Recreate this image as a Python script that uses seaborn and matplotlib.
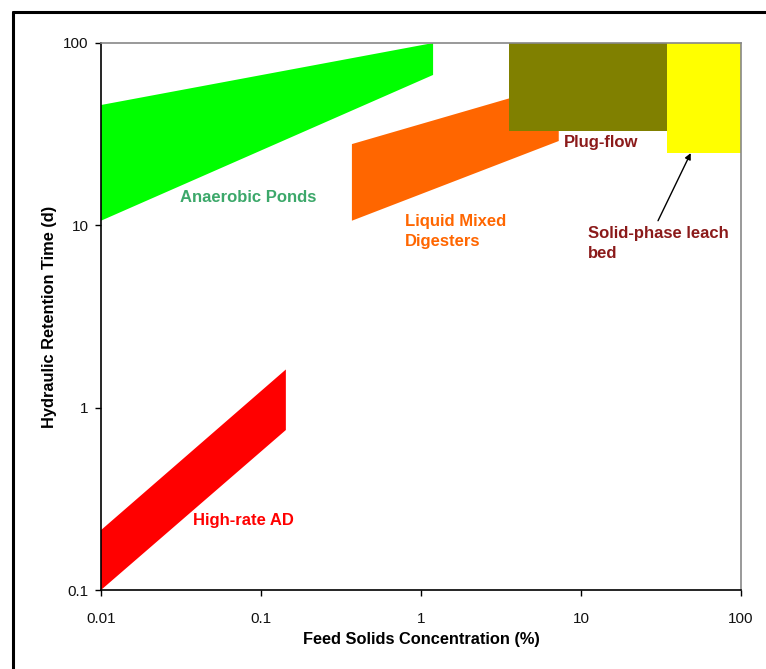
import matplotlib
matplotlib.use("Agg")
import matplotlib.pyplot as plt
from matplotlib.lines import Line2D
import seaborn as sns

sns.set_theme(style="ticks")
plt.rcParams['font.family'] = ['Liberation Sans', 'DejaVu Sans']

# Region vertices (Feed solids %, HRT days)
ponds_x = [0.01, 0.01, 1.19, 1.19]
ponds_y = [45.7, 10.6, 66.8, 100]
mixed_x = [0.37, 0.37, 7.26, 7.26]
mixed_y = [27.9, 10.6, 29.0, 59.6]
plug_x = [3.56, 3.56, 34.6, 34.6]
plug_y = [100, 33.0, 33.0, 100]
leach_x = [34.6, 34.6, 100, 100]
leach_y = [100, 24.9, 24.9, 100]
highrate_x = [0.01, 0.01, 0.143, 0.143]
highrate_y = [0.213, 0.1, 0.754, 1.62]

x_ticks = [0.01, 0.1, 1, 10, 100]
x_tick_labels = ["0.01", "0.1", "1", "10", "100"]
y_ticks = [0.1, 1, 10, 100]
y_tick_labels = ["0.1", "1", "10", "100"]

fig = plt.figure(figsize=(7.66, 6.69), dpi=100)
ax = fig.add_axes([101/766, 1-590/669, 640/766, 547/669])

ax.fill(ponds_x, ponds_y, color="#00FF00", lw=0)
ax.fill(mixed_x, mixed_y, color="#FF6600", lw=0)
ax.fill(plug_x, plug_y, color="#808000", lw=0)
ax.fill(leach_x, leach_y, color="#FFFF00", lw=0)
ax.fill(highrate_x, highrate_y, color="#FF0000", lw=0)

ax.set_xscale("log")
ax.set_yscale("log")
ax.set_xlim(0.01, 100)
ax.set_ylim(0.1, 100)
ax.set_xticks(x_ticks)
ax.set_xticklabels(x_tick_labels)
ax.set_yticks(y_ticks)
ax.set_yticklabels(y_tick_labels)
ax.minorticks_off()
ax.tick_params(axis="both", which="major", labelsize=11, length=4, width=1,
               color="black", labelcolor="#111111", direction="out")
ax.tick_params(axis="x", pad=12)
ax.tick_params(axis="y", pad=5)

for s in ["left", "bottom"]:
    ax.spines[s].set_color("black")
    ax.spines[s].set_linewidth(1.2)
for s in ["top", "right"]:
    ax.spines[s].set_visible(True)
    ax.spines[s].set_color("#888888")
    ax.spines[s].set_linewidth(1.2)

ax.set_xlabel("Feed Solids Concentration (%)", fontsize=11.8, fontweight="bold",
              labelpad=4, color="black")
ax.set_ylabel("Hydraulic Retention Time (d)", fontsize=11.8, fontweight="bold",
              labelpad=4, color="black")

tf = dict(fontsize=12, fontweight="bold", va="center", ha="left")
ax.text(0.0312, 14.3, "Anaerobic Ponds", color="#3CA86A", **tf)
ax.text(0.794, 9.25, "Liquid Mixed\nDigesters", color="#FF6600", linespacing=1.45, **tf)
ax.text(7.8, 28.4, "Plug-flow", color="#8B1A1A", **tf)
ax.text(11.06, 7.95, "Solid-phase leach\nbed", color="#8B1A1A", linespacing=1.45, **tf)
ax.text(0.0376, 0.24, "High-rate AD", color="#FF0000", **tf)

ax.annotate("", xy=(48.5, 24.9), xytext=(30.3, 10.6),
            arrowprops=dict(arrowstyle="-|>", color="black", lw=1,
                            mutation_scale=9, shrinkA=0, shrinkB=0))

# outer frame
fig.add_artist(Line2D([12.5/766, 12.5/766], [0, 1-12/669], transform=fig.transFigure,
                      color="black", lw=2.2))
fig.add_artist(Line2D([12.5/766, 1], [1-12/669, 1-12/669], transform=fig.transFigure,
                      color="black", lw=2.2))

fig.savefig("out.png", dpi=100)
